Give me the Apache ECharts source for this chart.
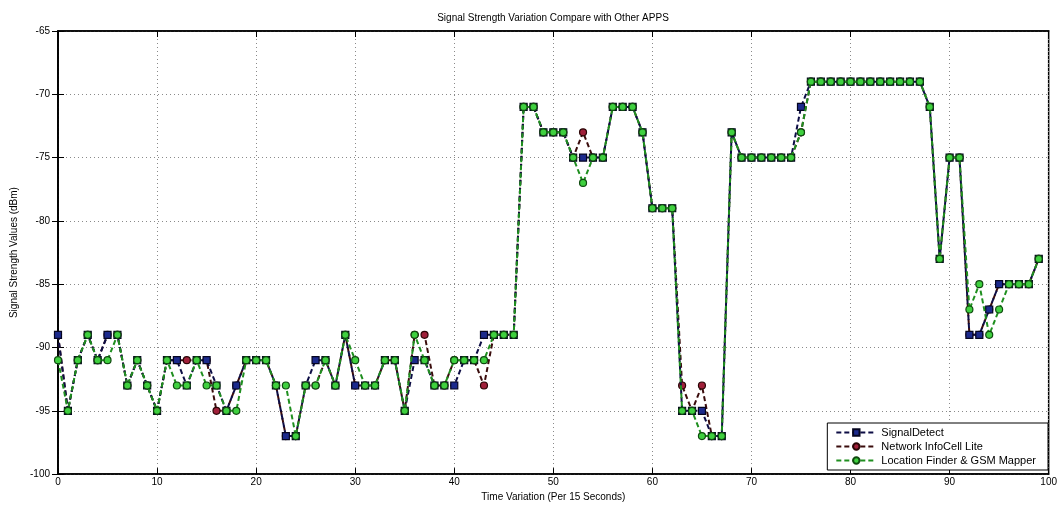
<!DOCTYPE html>
<html>
<head>
<meta charset="utf-8">
<style>
html, body { margin: 0; padding: 0; background: #fff; }
#main { width: 1060px; height: 507px; }
</style>
<script src="https://cdn.jsdelivr.net/npm/echarts@6/dist/echarts.min.js"></script>
</head>
<body>
<div id="main"></div>
<script>
// time index, one sample per 15 s
const timeSteps = Array.from({ length: 100 }, (_, i) => i);

const signalDetect = [
  -89, -95, -91, -89, -91, -89, -89, -93, -91, -93,
  -95, -91, -91, -93, -91, -91, -93, -95, -93, -91,
  -91, -91, -93, -97, -97, -93, -91, -91, -93, -89,
  -93, -93, -93, -91, -91, -95, -91, -91, -93, -93,
  -93, -91, -91, -89, -89, -89, -89, -71, -71, -73,
  -73, -73, -75, -75, -75, -75, -71, -71, -71, -73,
  -79, -79, -79, -95, -95, -95, -97, -97, -73, -75,
  -75, -75, -75, -75, -75, -71, -69, -69, -69, -69,
  -69, -69, -69, -69, -69, -69, -69, -69, -71, -83,
  -75, -75, -89, -89, -87, -85, -85, -85, -85, -83
];

const networkInfoCell = [
  -89, -95, -91, -89, -91, -89, -89, -93, -91, -93,
  -95, -91, -91, -91, -91, -91, -95, -95, -93, -91,
  -91, -91, -93, -97, -97, -93, -93, -91, -93, -89,
  -93, -93, -93, -91, -91, -95, -89, -89, -93, -93,
  -91, -91, -91, -93, -89, -89, -89, -71, -71, -73,
  -73, -73, -75, -73, -75, -75, -71, -71, -71, -73,
  -79, -79, -79, -93, -95, -93, -97, -97, -73, -75,
  -75, -75, -75, -75, -75, -73, -69, -69, -69, -69,
  -69, -69, -69, -69, -69, -69, -69, -69, -71, -83,
  -75, -75, -89, -89, -87, -85, -85, -85, -85, -83
];

const locationFinder = [
  -91, -95, -91, -89, -91, -91, -89, -93, -91, -93,
  -95, -91, -93, -93, -91, -93, -93, -95, -95, -91,
  -91, -91, -93, -93, -97, -93, -93, -91, -93, -89,
  -91, -93, -93, -91, -91, -95, -89, -91, -93, -93,
  -91, -91, -91, -91, -89, -89, -89, -71, -71, -73,
  -73, -73, -75, -77, -75, -75, -71, -71, -71, -73,
  -79, -79, -79, -95, -95, -97, -97, -97, -73, -75,
  -75, -75, -75, -75, -75, -73, -69, -69, -69, -69,
  -69, -69, -69, -69, -69, -69, -69, -69, -71, -83,
  -75, -75, -87, -85, -89, -87, -85, -85, -85, -83
];

const seriesNames = ["SignalDetect", "Network InfoCell Lite", "Location Finder & GSM Mapper"];

const toPairs = arr => timeSteps.map((t, i) => [t, arr[i]]);

const font = "Liberation Sans";
const gridLine = { show: true, lineStyle: { color: "#8a8a8a", type: [1, 3], width: 1 } };
const frame = { color: "#000", width: 1.5 };

const chart = echarts.init(document.getElementById("main"));
chart.setOption({
  animation: false,
  backgroundColor: "#fff",
  textStyle: { fontFamily: font, color: "#000" },
  title: {
    text: "Signal Strength Variation Compare with Other APPS",
    left: 548,
    top: 8,
    textAlign: "center",
    textStyle: { fontSize: 10, fontWeight: "normal", color: "#000", fontFamily: font }
  },
  grid: {
    left: 58, right: 9, top: 31, bottom: 24,
    show: true, borderColor: "#000", borderWidth: 1.5, backgroundColor: "#fff"
  },
  legend: {
    data: seriesNames,
    orient: "vertical",
    right: 12,
    bottom: 37,
    align: "left",
    backgroundColor: "#fff",
    borderColor: "#000",
    borderWidth: 1,
    padding: [4, 12, 4, 8],
    itemGap: 3,
    itemWidth: 40,
    itemHeight: 8,
    textStyle: { fontSize: 11, color: "#000", fontFamily: font }
  },
  xAxis: [
    {
      type: "value", min: 0, max: 100, interval: 10,
      name: "Time Variation (Per 15 Seconds)",
      nameLocation: "middle", nameGap: 12,
      nameTextStyle: { fontSize: 10, color: "#000" },
      axisLine: { show: true, onZero: false, lineStyle: frame },
      axisTick: { show: true, inside: true, length: 6, lineStyle: { color: "#000" } },
      axisLabel: { fontSize: 10, color: "#000", margin: 3 },
      splitLine: gridLine
    },
    {
      type: "value", min: 0, max: 100, interval: 10, position: "top",
      axisLine: { show: true, lineStyle: frame },
      axisTick: { show: true, inside: true, length: 6, lineStyle: { color: "#000" } },
      axisLabel: { show: false },
      splitLine: { show: false }
    }
  ],
  yAxis: [
    {
      type: "value", min: -100, max: -65, interval: 5,
      name: "Signal Strength Values (dBm)",
      nameLocation: "middle", nameGap: 34, nameRotate: 90,
      nameTextStyle: { fontSize: 10, color: "#000" },
      axisLine: { show: true, onZero: false, lineStyle: frame },
      axisTick: { show: true, inside: true, length: 6, lineStyle: { color: "#000" } },
      axisLabel: { fontSize: 10, color: "#000", margin: 8 },
      splitLine: gridLine
    },
    {
      type: "value", min: -100, max: -65, interval: 5, position: "right",
      axisLine: { show: true, lineStyle: frame },
      axisTick: { show: true, inside: true, length: 6, lineStyle: { color: "#000" } },
      axisLabel: { show: false },
      splitLine: { show: false }
    }
  ],
  series: [
    {
      name: seriesNames[1],
      type: "line",
      data: toPairs(networkInfoCell),
      symbol: "circle",
      symbolSize: 7,
      lineStyle: { color: "#3a0c0c", width: 2, type: [5, 3] },
      itemStyle: { color: "#a0203a", borderColor: "#2a0505", borderWidth: 1.2 },
      z: 2
    },
    {
      name: seriesNames[0],
      type: "line",
      data: toPairs(signalDetect),
      symbol: "rect",
      symbolSize: 7,
      lineStyle: { color: "#0d0d45", width: 2, type: [5, 3] },
      itemStyle: { color: "#1c2a8c", borderColor: "#050520", borderWidth: 1.2 },
      z: 3
    },
    {
      name: seriesNames[2],
      type: "line",
      data: toPairs(locationFinder),
      symbol: "circle",
      symbolSize: 7,
      lineStyle: { color: "#1f8f1f", width: 2, type: [5, 3] },
      itemStyle: { color: "#3fd03f", borderColor: "#0f4a0f", borderWidth: 1.2 },
      z: 4
    }
  ]
});
</script>
</body>
</html>
